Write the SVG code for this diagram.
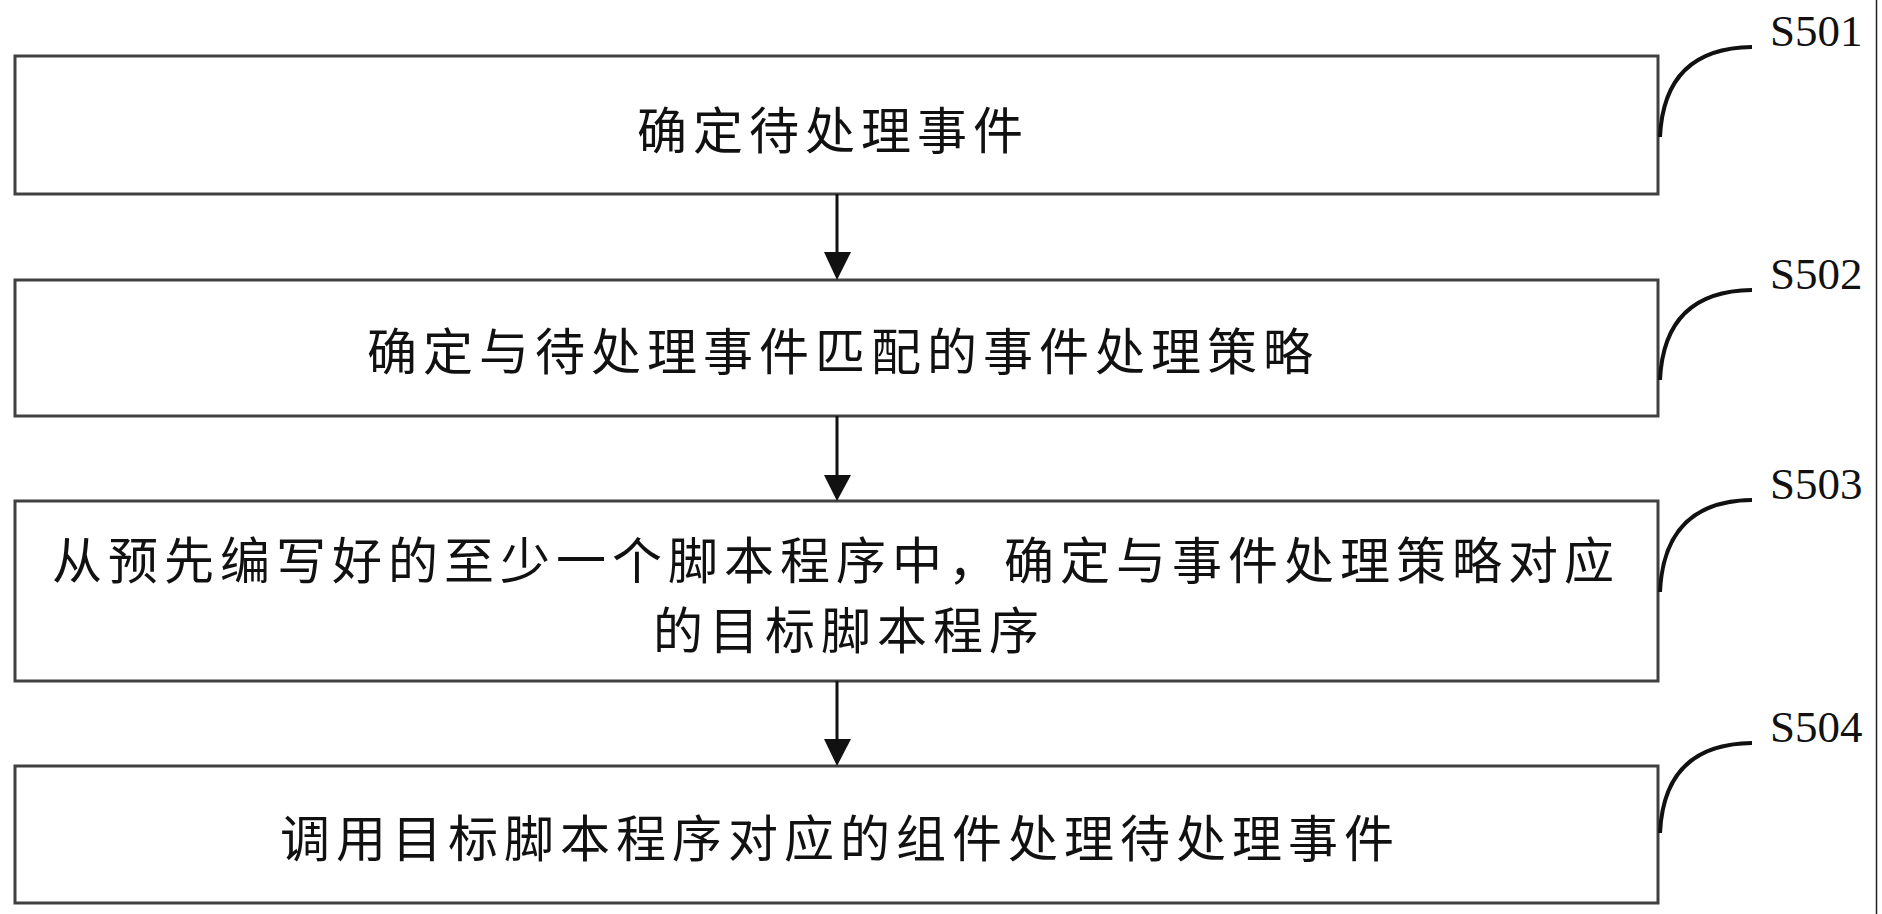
<svg xmlns="http://www.w3.org/2000/svg" width="1882" height="914" viewBox="0 0 1882 914">
<style>
.box{fill:#fff;stroke:#404040;stroke-width:3}
.t{font-family:"Noto Sans CJK SC","Noto Sans",sans-serif;font-size:50px;letter-spacing:6px;fill:#111;text-anchor:middle;dominant-baseline:central}
.lbl{font-family:"Liberation Serif","Times New Roman",serif;font-size:45px;fill:#111}
.cv{fill:none;stroke:#111;stroke-width:4}
.ar{stroke:#111;stroke-width:3}
</style>
<rect width="1882" height="914" fill="#fff"/>
<line x1="1876.5" y1="0" x2="1876.5" y2="914" stroke="#222" stroke-width="1.5"/>
<g id="S501">
<rect class="box" x="15" y="56" width="1643" height="138"/>
<text class="t" x="833" y="127">确定待处理事件</text>
<path class="cv" d="M1660,137 Q1664,48 1752,47"/>
<text class="lbl" x="1770" y="46">S501</text>
</g>
<g id="S502">
<rect class="box" x="15" y="280" width="1643" height="136"/>
<text class="t" x="843" y="348">确定与待处理事件匹配的事件处理策略</text>
<path class="cv" d="M1660,380 Q1664,291 1752,290"/>
<text class="lbl" x="1770" y="289">S502</text>
</g>
<g id="S503">
<rect class="box" x="15" y="501" width="1643" height="180"/>
<text class="t" x="836" y="557">从预先编写好的至少一个脚本程序中，确定与事件处理策略对应</text>
<text class="t" x="849" y="627">的目标脚本程序</text>
<path class="cv" d="M1660,592 Q1664,501 1752,500"/>
<text class="lbl" x="1770" y="499">S503</text>
</g>
<g id="S504">
<rect class="box" x="15" y="766" width="1643" height="137"/>
<text class="t" x="840" y="835">调用目标脚本程序对应的组件处理待处理事件</text>
<path class="cv" d="M1660,833 Q1664,744 1752,743"/>
<text class="lbl" x="1770" y="742">S504</text>
</g>
<g id="connectors">
<line class="ar" x1="837" y1="194" x2="837" y2="256"/>
<polygon points="824,252 851,252 837,280" fill="#111"/>
<line class="ar" x1="837" y1="416" x2="837" y2="479"/>
<polygon points="824,475 851,475 837,501" fill="#111"/>
<line class="ar" x1="837" y1="681" x2="837" y2="743"/>
<polygon points="824,739 851,739 837,766" fill="#111"/>
</g>
</svg>
